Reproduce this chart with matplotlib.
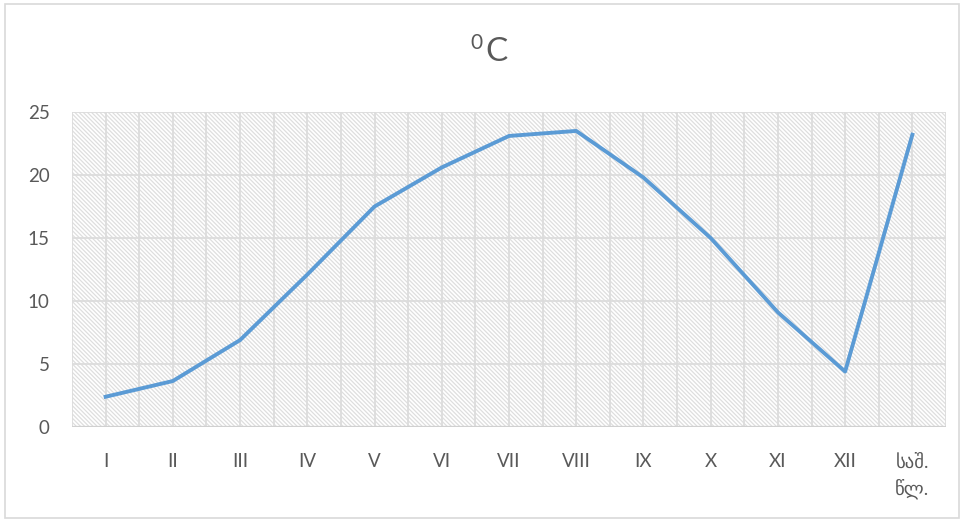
import numpy as np
import matplotlib
matplotlib.use('Agg')
import matplotlib.pyplot as plt
from matplotlib.patches import Rectangle

months = ['I', 'II', 'III', 'IV', 'V', 'VI', 'VII', 'VIII', 'IX', 'X', 'XI', 'XII', 'საშ.\nწლ.']
temps = [2.4, 3.65, 6.9, 12.1, 17.5, 20.6, 23.1, 23.5, 19.8, 15.0, 9.1, 4.4, 23.2]
y_ticks = [0, 5, 10, 15, 20, 25]

plt.rcParams['font.family'] = ['Lato', 'DejaVu Sans']
plt.rcParams['hatch.linewidth'] = 0.9

fig = plt.figure(figsize=(9.64, 5.22), dpi=100)
fig.patches.append(Rectangle((0.005, 0.008), 0.99, 0.984, transform=fig.transFigure,
                             fill=False, edgecolor='#D9D9D9', linewidth=1.2))
ax = fig.add_axes([0.0747, 0.182, 0.9066, 0.6034])

x = np.arange(len(months))
ax.set_xlim(-0.5, len(months) - 0.5)
ax.set_ylim(0, 25)

# hatched background
ax.add_patch(Rectangle((0, 0), 1, 1, transform=ax.transAxes, facecolor='white',
                       edgecolor='#DEDEDE', hatch='\\' * 8, linewidth=0, zorder=0))

for v in y_ticks[1:]:
    ax.axhline(v, color='#DCDCDC', linewidth=1.3, zorder=1)
for xv in np.arange(-0.5, len(months), 0.5):
    ax.axvline(xv, color='#DCDCDC', linewidth=1.3, zorder=1)
ax.axhline(0, color='#D0D0D0', linewidth=1.6, zorder=2)

ax.plot(x, temps, color='#5B9BD5', linewidth=2.8, zorder=3, solid_joinstyle='round')

ax.set_xticks(x)
ax.set_xticklabels(months, va='top', linespacing=1.5)
ax.set_yticks(y_ticks)
for s in ax.spines.values():
    s.set_visible(False)
ax.tick_params(length=0, labelsize=13.5, labelcolor='#595959')
ax.tick_params(axis='x', pad=19)
ax.tick_params(axis='y', pad=16)
for lbl in ax.get_yticklabels():
    lbl.set_horizontalalignment('right')

# title: superscript zero + C
fig.text(0.504, 0.9, 'C', ha='left', va='center', fontsize=24, color='#595959')
fig.text(0.501, 0.917, '0', ha='right', va='center', fontsize=15, color='#595959')

fig.savefig('out.png', dpi=100)
